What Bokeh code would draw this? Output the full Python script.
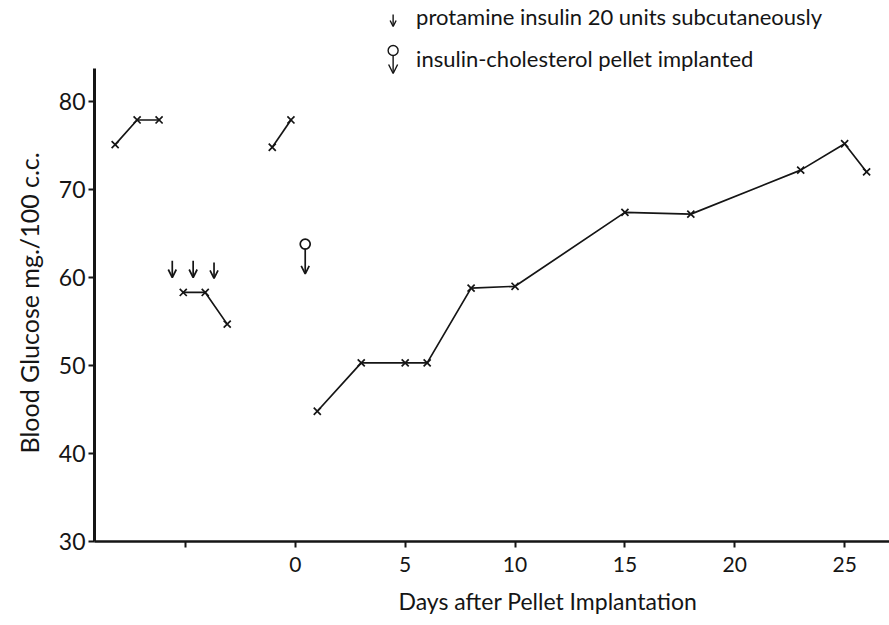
from bokeh.plotting import figure
from bokeh.models import FixedTicker, Arrow, OpenHead, ColumnDataSource, Range1d, Title
from bokeh.core.properties import value
from bokeh.embed import file_html
from bokeh.resources import INLINE

# ---- data ----
pre1_days = [-8.2, -7.2, -6.2]
pre1_glucose = [75.1, 77.9, 77.9]
pre2_days = [-5.1, -4.1, -3.1]
pre2_glucose = [58.3, 58.3, 54.7]
pre3_days = [-1.05, -0.2]
pre3_glucose = [74.8, 77.9]
post_days = [1, 3, 5, 6, 8, 10, 15, 18, 23, 25, 26]
post_glucose = [44.8, 50.3, 50.3, 50.3, 58.8, 59.0, 67.4, 67.2, 72.2, 75.2, 72.0]

insulin_days = [-5.6, -4.65, -3.7]
insulin_top = [61.9, 61.9, 61.7]
insulin_tip = [60.0, 60.0, 59.9]

pellet_day = [0.45]
pellet_circle = [63.8]
pellet_top = [63.3]
pellet_tip = [60.4]

x_ticks = [-5, 0, 5, 10, 15, 20, 25]
y_ticks = [30, 40, 50, 60, 70, 80]

FONT = "Lato"
INK = "#151515"

# ---- layout helpers (page px -> data) ----
X0, XPX = -9.14, 22.0
Y0, YPX = 30.0, 8.8
def px_x(px):
    return X0 + (px - 93) / XPX
def px_y(py):
    return Y0 + (541 - py) / YPX

p = figure(width=889, height=625, output_backend="svg", toolbar_location=None,
           x_range=Range1d(X0, px_x(889)), y_range=Range1d(Y0, px_y(0)),
           min_border_left=93, min_border_right=0, min_border_top=0,
           min_border_bottom=84)
p.outline_line_color = None
p.xgrid.visible = False
p.ygrid.visible = False
p.background_fill_color = "white"

# axes
p.xaxis.ticker = FixedTicker(ticks=x_ticks)
p.xaxis.major_label_overrides = {-5: ""}
p.yaxis.ticker = FixedTicker(ticks=y_ticks)
p.yaxis.bounds = (30, px_y(68))
for ax in (p.xaxis, p.yaxis):
    ax.axis_line_color = INK
    ax.major_tick_line_color = INK
    ax.major_tick_line_width = 2
    ax.major_tick_out = 6
    ax.major_tick_in = 0
    ax.minor_tick_line_color = None
    ax.major_label_text_font = FONT
    ax.major_label_text_color = INK
p.xaxis.axis_line_width = 2.5
p.yaxis.axis_line_width = 3
p.xaxis.major_label_text_font_size = "21px"
p.yaxis.major_label_text_font_size = "23px"
p.xaxis.major_label_standoff = 9
p.yaxis.major_label_standoff = 3

# axis titles (placed like the original: x title right of centre,
# y title a little below centre)
p.add_layout(Title(text="Blood Glucose mg./100 c.c.", align="left",
                   offset=88, text_font=FONT, text_font_size="25px",
                   text_font_style="normal", text_color=INK, standoff=23),
             "left")
p.add_layout(Title(text="Days after Pellet Implantation", align="left",
                   offset=304, text_font=FONT, text_font_size="23px",
                   text_font_style="normal", text_color=INK, standoff=21),
             "below")

# data series
for xs, ys in [(pre1_days, pre1_glucose), (pre2_days, pre2_glucose),
               (pre3_days, pre3_glucose), (post_days, post_glucose)]:
    p.line(xs, ys, line_color=INK, line_width=1.7)
    p.scatter(xs, ys, marker="x", size=10, line_color=INK, line_width=1.7)

# insulin arrows
ins_src = ColumnDataSource(dict(x=insulin_days, y0=insulin_top, y1=insulin_tip))
p.add_layout(Arrow(end=OpenHead(size=8, line_width=1.7, line_color=INK),
                   x_start="x", y_start="y0", x_end="x", y_end="y1",
                   source=ins_src, line_width=1.7, line_color=INK))

# pellet symbol
pel_src = ColumnDataSource(dict(x=pellet_day, y0=pellet_top, y1=pellet_tip))
p.add_layout(Arrow(end=OpenHead(size=8, line_width=1.7, line_color=INK),
                   x_start="x", y_start="y0", x_end="x", y_end="y1",
                   source=pel_src, line_width=1.7, line_color=INK))
p.scatter(pellet_day, pellet_circle, marker="circle", size=10,
          fill_color="white", line_color=INK, line_width=1.7)

# legend (drawn in the top area)
leg_src = ColumnDataSource(dict(x=[px_x(392)], y0=[px_y(14)], y1=[px_y(26)]))
p.add_layout(Arrow(end=OpenHead(size=6, line_width=1.4, line_color=INK),
                   x_start="x", y_start="y0", x_end="x", y_end="y1",
                   source=leg_src, line_width=1.4, line_color=INK))
leg2_src = ColumnDataSource(dict(x=[px_x(392)], y0=[px_y(55)], y1=[px_y(73)]))
p.add_layout(Arrow(end=OpenHead(size=9, line_width=1.4, line_color=INK),
                   x_start="x", y_start="y0", x_end="x", y_end="y1",
                   source=leg2_src, line_width=1.4, line_color=INK))
p.scatter([px_x(392)], [px_y(50)], marker="circle", size=10,
          fill_color="white", line_color=INK, line_width=1.4)
p.text(x=[px_x(415), px_x(415)], y=[px_y(16), px_y(58)],
       text=["protamine insulin 20 units subcutaneously",
             "insulin-cholesterol pellet implanted"],
       text_font=value(FONT), text_font_size="22px", text_color=INK,
       text_align="left", text_baseline="middle")

open("out.html", "w").write(file_html(p, INLINE))
